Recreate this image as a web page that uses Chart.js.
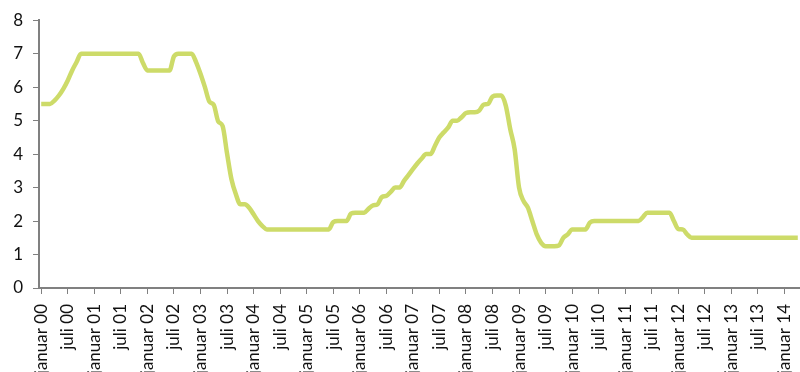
<!DOCTYPE html>
<html>
<head>
<meta charset="utf-8">
<script src="https://cdn.jsdelivr.net/npm/chart.js@4"></script>
<style>
  body { margin: 0; background: #fff; }
</style>
</head>
<body>
<canvas id="chart" width="800" height="372"></canvas>
<script>
var monthNames = ['januar', 'februar', 'mars', 'april', 'mai', 'juni', 'juli',
    'august', 'september', 'oktober', 'november', 'desember']
var years = ['00', '01', '02', '03', '04', '05', '06', '07', '08', '09', '10', '11', '12', '13', '14']

// monthly rate, januar 00 .. april 14
var rates = [
    5.5, 5.5, 5.5, 5.6, 5.75, 5.95, 6.2, 6.5, 6.75, 7.0, 7.0, 7.0,           // 2000
    7.0, 7.0, 7.0, 7.0, 7.0, 7.0, 7.0, 7.0, 7.0, 7.0, 7.0, 6.72,             // 2001
    6.5, 6.5, 6.5, 6.5, 6.5, 6.5, 6.92, 7.0, 7.0, 7.0, 7.0, 6.75,            // 2002
    6.4, 6.0, 5.57, 5.47, 4.98, 4.84, 4.02, 3.25, 2.8, 2.5, 2.5, 2.4,        // 2003
    2.2, 2.0, 1.85, 1.75, 1.75, 1.75, 1.75, 1.75, 1.75, 1.75, 1.75, 1.75,    // 2004
    1.75, 1.75, 1.75, 1.75, 1.75, 1.75, 1.97, 2.0, 2.0, 2.0, 2.22, 2.25,     // 2005
    2.25, 2.25, 2.37, 2.47, 2.5, 2.72, 2.75, 2.87, 3.0, 3.0, 3.2, 3.37,      // 2006
    3.55, 3.72, 3.87, 4.0, 4.0, 4.25, 4.5, 4.65, 4.8, 5.0, 5.0, 5.1,         // 2007
    5.23, 5.25, 5.25, 5.3, 5.48, 5.5, 5.72, 5.75, 5.75, 5.45, 4.75, 4.15,    // 2008
    3.0, 2.6, 2.4, 2.0, 1.6, 1.35, 1.25, 1.25, 1.25, 1.27, 1.5, 1.6,         // 2009
    1.75, 1.75, 1.75, 1.75, 1.95, 2.0, 2.0, 2.0, 2.0, 2.0, 2.0, 2.0,         // 2010
    2.0, 2.0, 2.0, 2.0, 2.12, 2.25, 2.25, 2.25, 2.25, 2.25, 2.25, 2.0,       // 2011
    1.76, 1.75, 1.6, 1.5, 1.5, 1.5, 1.5, 1.5, 1.5, 1.5, 1.5, 1.5,            // 2012
    1.5, 1.5, 1.5, 1.5, 1.5, 1.5, 1.5, 1.5, 1.5, 1.5, 1.5, 1.5,              // 2013
    1.5, 1.5, 1.5, 1.5                                                      // 2014
]

var yMin = 0
var yMax = 8
var yStep = 1

var categories = []
years.forEach(function (y) {
    monthNames.forEach(function (m) { categories.push(m + ' ' + y) })
})
categories = categories.slice(0, rates.length)

var axisGrey = '#808080'
var lineColour = '#cddb69'

document.addEventListener('DOMContentLoaded', () => {
    Chart.defaults.font.family = 'Lato, "Open Sans", sans-serif'
    Chart.defaults.font.size = 17
    Chart.defaults.color = '#111'

    var ctx = document.getElementById('chart').getContext('2d')
    new Chart(ctx, {
        type: 'line',
        data: {
            labels: categories,
            datasets: [{
                data: rates,
                borderColor: lineColour,
                borderWidth: 4.5,
                pointRadius: 0,
                cubicInterpolationMode: 'monotone',
                fill: false
            }]
        },
        options: {
            responsive: false,
            devicePixelRatio: 1,
            animation: false,
            layout: { padding: { top: 20, right: 0, bottom: 0, left: 0 } },
            plugins: {
                legend: { display: false },
                tooltip: { enabled: false }
            },
            scales: {
                x: {
                    offset: true,
                    grid: {
                        offset: false,
                        drawOnChartArea: false,
                        tickLength: 6,
                        lineWidth: 1,
                        color: axisGrey
                    },
                    border: { color: axisGrey, width: 2 },
                    ticks: {
                        autoSkip: false,
                        minRotation: 90,
                        maxRotation: 90,
                        padding: 10,
                        // only januar and juli are labelled (null drops the tick)
                        callback: function (val, i) {
                            return i % 6 === 0 ? categories[i] : null
                        }
                    },
                    afterFit: function (scale) {
                        scale.height = 84
                        scale.paddingLeft = 0
                        scale.paddingRight = 0
                    }
                },
                y: {
                    min: yMin,
                    max: yMax,
                    grid: {
                        drawOnChartArea: false,
                        tickLength: 6,
                        lineWidth: 1,
                        color: axisGrey
                    },
                    border: { color: axisGrey, width: 2 },
                    ticks: { stepSize: yStep, padding: 10 },
                    afterFit: function (scale) { scale.width = 39 }
                }
            }
        }
    })
})
</script>
</body>
</html>
